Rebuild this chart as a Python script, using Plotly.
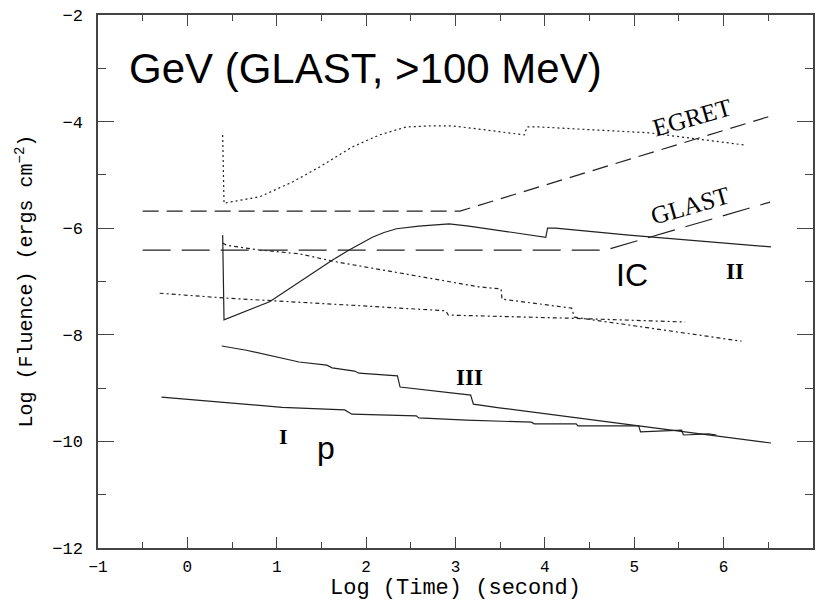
import plotly.graph_objects as go

# ---- data (log time [s], log fluence [erg cm^-2]) ----
egret_x = [-0.5, 3.05, 6.5]
egret_y = [-5.68, -5.68, -3.91]

glast_x = [-0.5, 4.68, 6.52]
glast_y = [-6.41, -6.41, -5.51]

egret_thr_x = [0.395, 0.41, 0.81, 1.18, 1.48, 1.84, 2.15, 2.45, 2.74, 2.96, 3.26, 3.77, 3.80, 3.93, 5.16, 6.24]
egret_thr_y = [-4.25, -5.53, -5.41, -5.13, -4.85, -4.48, -4.25, -4.10, -4.08, -4.08, -4.14, -4.25, -4.10, -4.10, -4.21, -4.44]

ic_x = [0.395, 0.41, 0.92, 1.33, 1.62, 1.81, 1.95, 2.07, 2.20, 2.34, 2.59, 2.85, 2.93, 3.15, 4.01, 4.03, 4.12, 4.94, 6.53]
ic_y = [-6.13, -7.72, -7.38, -6.93, -6.60, -6.41, -6.28, -6.17, -6.08, -6.01, -5.96, -5.92, -5.92, -5.96, -6.17, -6.00, -6.00, -6.13, -6.35]

dotA_x = [0.395, 0.44, 0.81, 1.25, 1.66, 2.67, 3.26, 3.51, 3.52, 4.30, 4.33, 6.20]
dotA_y = [-6.28, -6.32, -6.41, -6.48, -6.63, -6.92, -7.10, -7.14, -7.33, -7.50, -7.67, -8.12]

dotB_x = [-0.31, 0.42, 1.78, 2.89, 2.92, 4.30, 5.57]
dotB_y = [-7.22, -7.31, -7.44, -7.55, -7.63, -7.69, -7.76]

iii_x = [0.385, 0.66, 1.25, 1.56, 1.62, 1.87, 1.92, 2.35, 2.38, 3.17, 3.20, 3.49, 5.05, 6.53]
iii_y = [-8.21, -8.29, -8.51, -8.57, -8.62, -8.68, -8.72, -8.77, -8.98, -9.13, -9.30, -9.37, -9.71, -10.03]

one_x = [-0.29, 0.69, 1.06, 1.76, 1.84, 2.56, 2.59, 3.12, 3.85, 3.88, 4.35, 4.37, 5.05, 5.07, 5.53, 5.55, 5.83, 5.92]
one_y = [-9.17, -9.30, -9.36, -9.41, -9.49, -9.52, -9.56, -9.60, -9.64, -9.67, -9.67, -9.71, -9.71, -9.82, -9.79, -9.88, -9.86, -9.88]

x_ticks = [-1, 0, 1, 2, 3, 4, 5, 6, 7]
y_ticks = [-12, -10, -8, -6, -4, -2]

LC = "#222222"
fig = go.Figure()


def add(x, y, dash, width=1.2):
    fig.add_trace(go.Scatter(x=x, y=y, mode="lines",
                             line=dict(color=LC, width=width, dash=dash),
                             hoverinfo="skip", showlegend=False))


add(egret_x, egret_y, "16px,8px")
add(glast_x, glast_y, "28px,11px")
add(egret_thr_x, egret_thr_y, "2px,3px")
add(ic_x, ic_y, "solid")
add(dotA_x, dotA_y, "4px,3px,2px,3px")
add(dotB_x, dotB_y, "4px,3px,2px,3px")
add(iii_x, iii_y, "solid")
add(one_x, one_y, "solid")

serif = "Liberation Serif"
sans = "Liberation Sans"
mono = "Liberation Mono"

ann = [
    dict(x=-0.67, y=-3.0, text="GeV (GLAST, >100 MeV)", xanchor="left", yanchor="middle",
         font=dict(family=sans, size=42, color="black")),
    dict(x=1.07, y=-9.90, text="<b>I</b>", font=dict(family=serif, size=22, color="black")),
    dict(x=1.55, y=-10.12, text="p", font=dict(family=sans, size=32, color="black")),
    dict(x=3.16, y=-8.81, text="<b>III</b>", font=dict(family=serif, size=23, color="black")),
    dict(x=4.98, y=-6.88, text="IC", font=dict(family=sans, size=32, color="black")),
    dict(x=6.13, y=-6.82, text="<b>II</b>", font=dict(family=serif, size=23, color="black")),
    dict(x=5.65, y=-3.93, text="EGRET", textangle=-16, font=dict(family=serif, size=25, color="black")),
    dict(x=5.63, y=-5.58, text="GLAST", textangle=-16, font=dict(family=serif, size=25, color="black")),
]
for a in ann:
    a.setdefault("xanchor", "center")
    a.setdefault("yanchor", "middle")
    a["showarrow"] = False
    a["xref"] = "x"
    a["yref"] = "y"

ann.append(dict(x=0.5, y=0, xref="paper", yref="paper", yshift=-40, yanchor="middle",
                text="Log (Time) (second)", showarrow=False,
                font=dict(family=mono, size=22, color="black")))
ann.append(dict(x=0, y=0.5, xref="paper", yref="paper", xshift=-74, xanchor="center",
                text="Log (Fluence) (ergs cm<sup>−2</sup>)", textangle=-90, showarrow=False,
                font=dict(family=mono, size=20, color="black")))

axcol = "#444444"
fig.update_layout(
    width=817, height=602,
    margin=dict(l=98, r=2, t=15, b=54),
    paper_bgcolor="white", plot_bgcolor="white",
    annotations=ann,
    xaxis=dict(range=[-1, 7], tickvals=x_ticks, ticks="inside", ticklen=11, tickwidth=1.3,
               tickcolor=axcol, showline=True, linecolor=axcol, linewidth=1.5, mirror="ticks",
               showgrid=False, zeroline=False, ticklabelstandoff=3,
               tickfont=dict(family=mono, size=16, color="black"),
               minor=dict(dtick=0.5, ticks="inside", ticklen=6, tickcolor=axcol, tickwidth=1.3, showgrid=False)),
    yaxis=dict(range=[-12, -2], tickvals=y_ticks, ticks="inside", ticklen=16, tickwidth=1.3,
               tickcolor=axcol, showline=True, linecolor=axcol, linewidth=1.5, mirror="ticks",
               showgrid=False, zeroline=False, ticklabelstandoff=10,
               tickfont=dict(family=mono, size=17, color="black"),
               minor=dict(dtick=1, ticks="inside", ticklen=8, tickcolor=axcol, tickwidth=1.3, showgrid=False)),
)

fig.write_html("out.html")
